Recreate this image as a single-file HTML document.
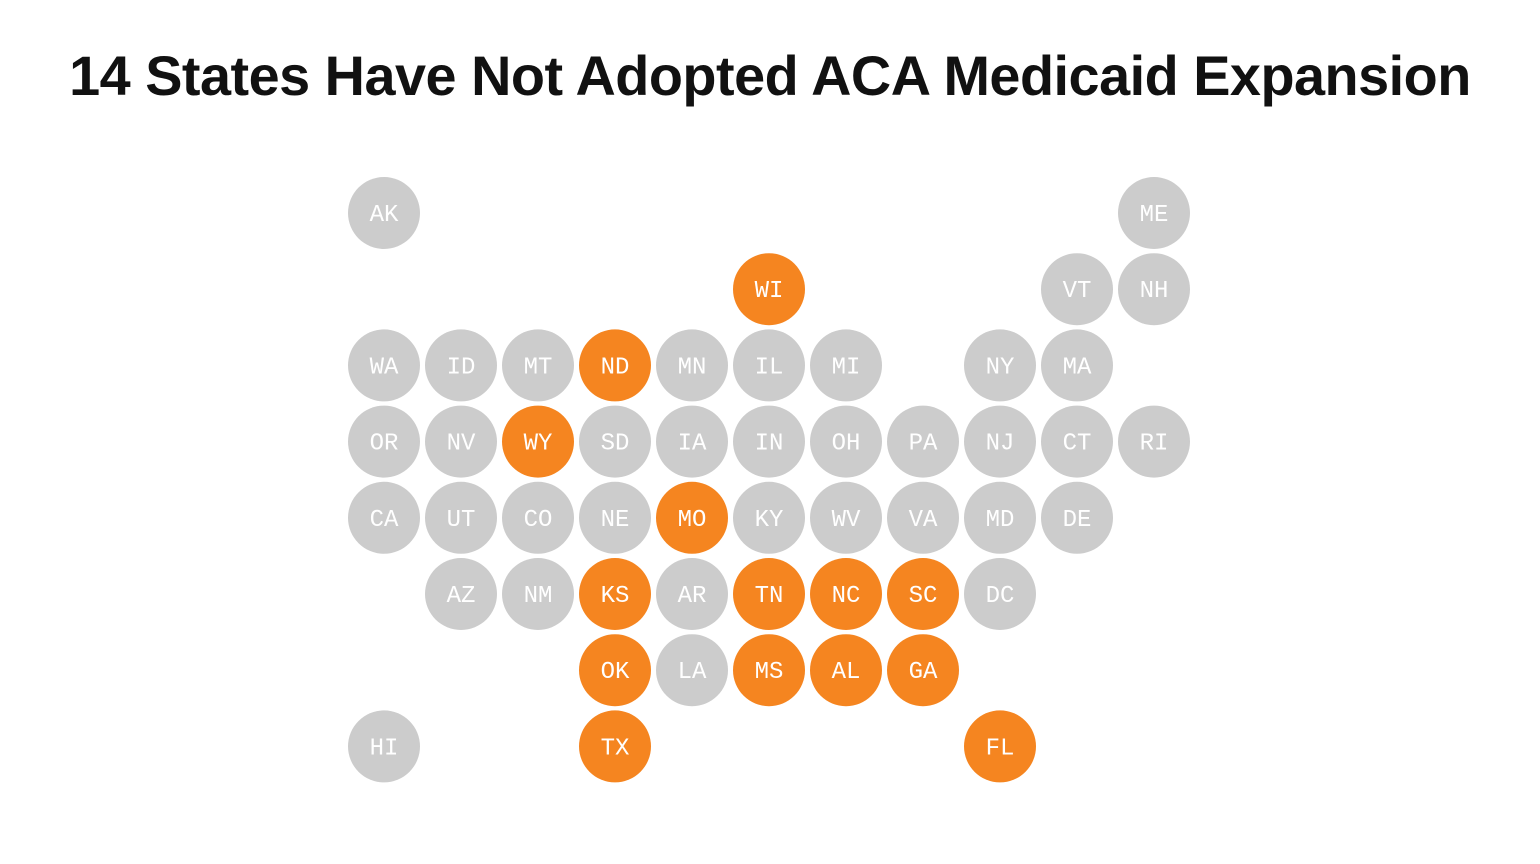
<!DOCTYPE html>
<html><head><meta charset="utf-8"><style>
body{margin:0;width:1540px;height:864px;background:#fff;overflow:hidden}
h1{position:absolute;left:0;width:1540px;top:43px;margin:0;text-align:center;font:bold 55.8px "Liberation Sans",sans-serif;color:#111;letter-spacing:-0.5px}
svg{position:absolute;left:0;top:0}
</style></head><body>
<h1>14 States Have Not Adopted ACA Medicaid Expansion</h1>
<svg id="map" width="1540" height="864"></svg>
<script>
const states=["AK","ME","WI","VT","NH","WA","ID","MT","ND","MN","IL","MI","NY","MA","OR","NV","WY","SD","IA","IN","OH","PA","NJ","CT","RI","CA","UT","CO","NE","MO","KY","WV","VA","MD","DE","AZ","NM","KS","AR","TN","NC","SC","DC","OK","LA","MS","AL","GA","HI","TX","FL"];
const cols=[0,10,5,9,10,0,1,2,3,4,5,6,8,9,0,1,2,3,4,5,6,7,8,9,10,0,1,2,3,4,5,6,7,8,9,1,2,3,4,5,6,7,8,3,4,5,6,7,0,3,8];
const rows=[0,0,1,1,1,2,2,2,2,2,2,2,2,2,3,3,3,3,3,3,3,3,3,3,3,4,4,4,4,4,4,4,4,4,4,5,5,5,5,5,5,5,5,6,6,6,6,6,7,7,7];
const notExpanded=["WI","ND","WY","MO","KS","TN","NC","SC","OK","MS","AL","GA","TX","FL"];
const x=c=>384+c*77, y=r=>213+r*76.2;
const svg=document.getElementById('map'),NS="http://www.w3.org/2000/svg";
states.forEach((s,i)=>{
 const g=document.createElementNS(NS,'g');
 
 
 const c=document.createElementNS(NS,'circle');
 c.setAttribute('cx',x(cols[i]));c.setAttribute('cy',y(rows[i]));c.setAttribute('r',36);
 c.setAttribute('fill',notExpanded.includes(s)?'#f58520':'#cccccc');
 const t=document.createElementNS(NS,'text');
 t.setAttribute('x',x(cols[i]));t.setAttribute('y',y(rows[i])+8);
 t.setAttribute('text-anchor','middle');t.setAttribute('fill','#fff');
 t.setAttribute('font-family','"Liberation Mono",monospace');t.setAttribute('font-size','24');
 t.textContent=s;
 g.appendChild(c);g.appendChild(t);svg.appendChild(g);
});
</script>
</body></html>
